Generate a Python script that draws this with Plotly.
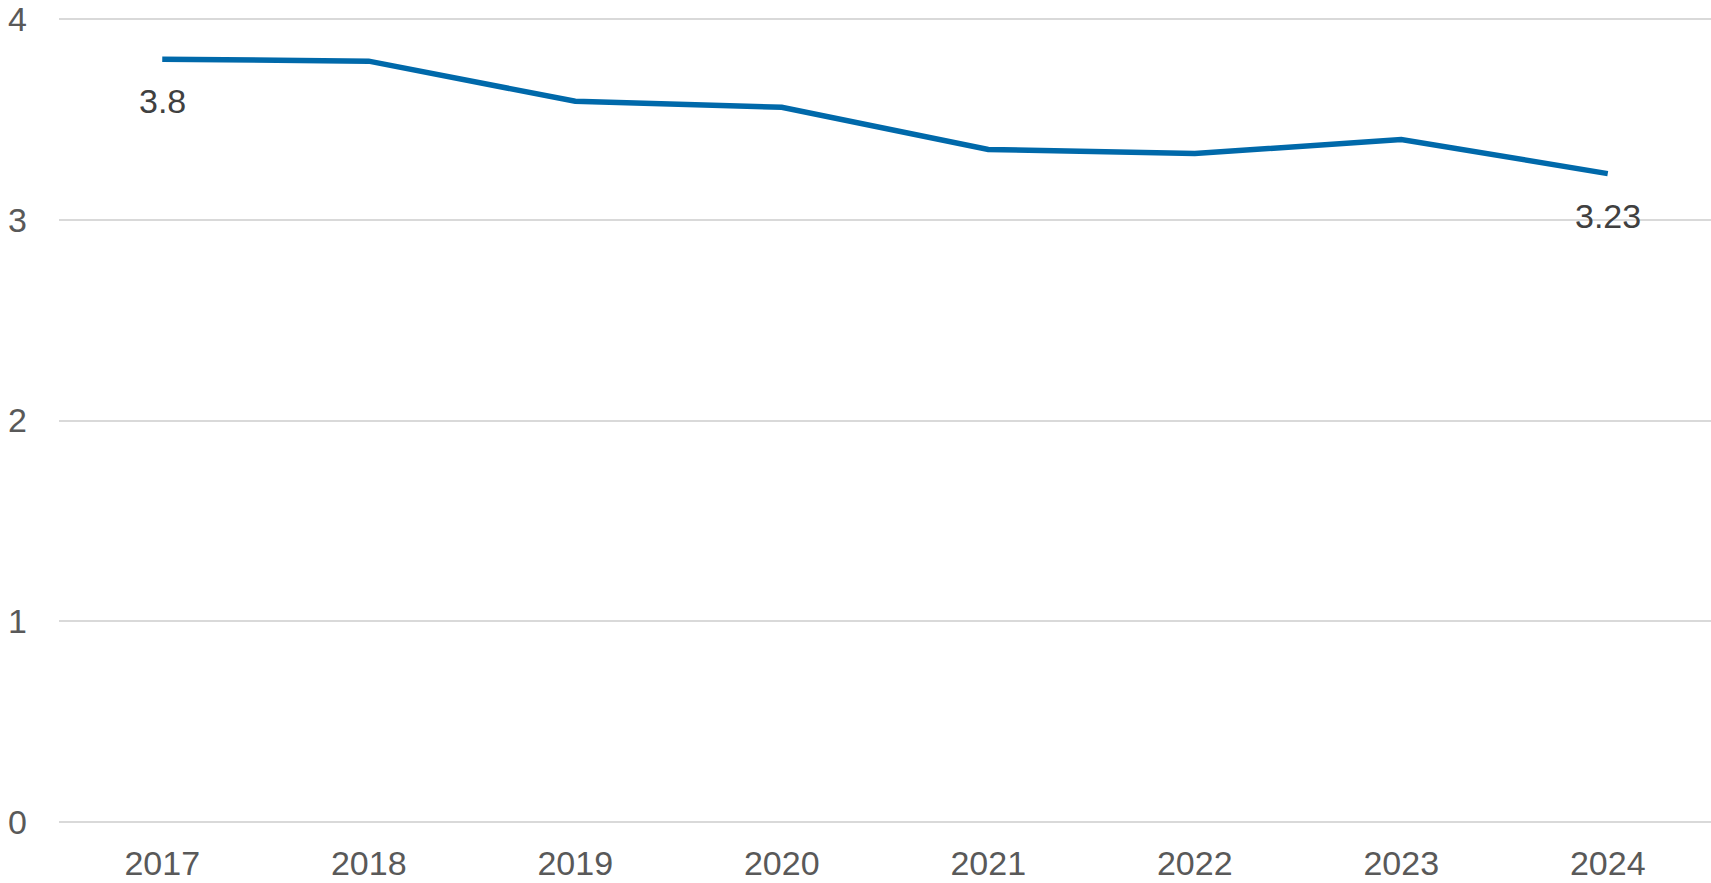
import plotly.graph_objects as go

years = ["2017", "2018", "2019", "2020", "2021", "2022", "2023", "2024"]
values = [3.80, 3.79, 3.59, 3.56, 3.35, 3.33, 3.40, 3.23]
label_idx = [0, 7]
label_text = ["3.8", "3.23"]
y_ticks = [0, 1, 2, 3, 4]

fig = go.Figure()
fig.add_trace(go.Scatter(
    x=years, y=values, mode="lines",
    line=dict(color="#0069AA", width=5.5),
    hoverinfo="skip", showlegend=False,
))

for i, t in zip(label_idx, label_text):
    fig.add_annotation(
        x=i, y=values[i], xref="x", yref="y", text=t, showarrow=False,
        yshift=-42, font=dict(family="Liberation Sans", size=34, color="#404040"),
    )

fig.update_layout(
    width=1711, height=883,
    margin=dict(l=59, r=0, t=15, b=61),
    plot_bgcolor="white", paper_bgcolor="white",
    font=dict(family="Liberation Sans", size=34, color="#595959"),
)
fig.update_xaxes(
    type="category", range=[-0.5, 7.5], showgrid=False, showline=False,
    ticks="", automargin=False, ticklabelstandoff=18,
    tickfont=dict(size=34, color="#595959"),
)
fig.update_yaxes(
    range=[0, 4.02], tickvals=y_ticks, showgrid=True, gridcolor="#D9D9D9", gridwidth=2,
    zeroline=True, zerolinecolor="#D9D9D9", zerolinewidth=2, showline=False,
    ticks="", automargin=False, ticklabelstandoff=31, ticklabeloverflow="allow",
    tickfont=dict(size=34, color="#595959"),
)

fig.write_html(
    "out.html",
    config={"displayModeBar": False},
    post_script="document.body.style.margin='0';document.body.style.overflow='hidden';",
)
